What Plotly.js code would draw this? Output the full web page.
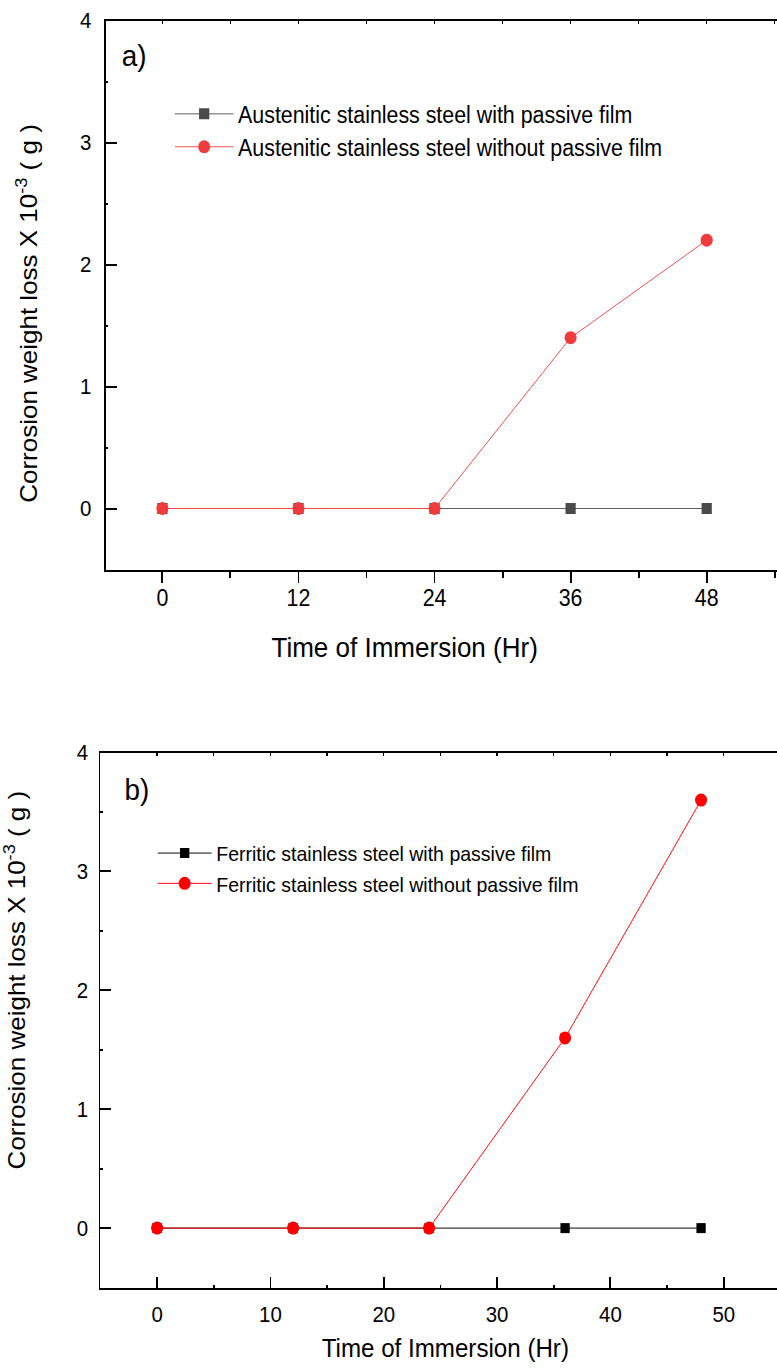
<!DOCTYPE html>
<html><head><meta charset="utf-8">
<script src="https://cdn.plot.ly/plotly-3.0.1.min.js"></script>
<style>
html,body{margin:0;padding:0;overflow:hidden;background:#fff}
#wrap{width:777px;height:1369px;overflow:hidden}
#plot{width:836px;height:1369px;transform:scaleX(0.92943);transform-origin:0 0}
</style>
</head><body><div id="wrap"><div id="plot"></div></div>
<script>
// ---- data ----
const hours = [0, 12, 24, 36, 48];
const austeniticWithFilm = [0, 0, 0, 0, 0];
const austeniticWithoutFilm = [0, 0, 0, 1.4, 2.2];
const ferriticWithFilm = [0, 0, 0, 0, 0];
const ferriticWithoutFilm = [0, 0, 0, 1.6, 3.6];
const seriesNamesTop = ['Austenitic stainless steel with passive film', 'Austenitic stainless steel without passive film'];
const seriesNamesBottom = ['Ferritic stainless steel with passive film', 'Ferritic stainless steel without passive film'];
const panelLabels = ['a)', 'b)'];
const xTitle = 'Time of Immersion (Hr)';
const yTitle = 'Corrosion weight loss X 10<sup>-3</sup> ( g )';

const FONT = 'Liberation Sans, Arial, Helvetica, sans-serif';

const traces = [
  {x: hours, y: austeniticWithFilm, name: seriesNamesTop[0], type: 'scatter', mode: 'lines+markers',
   xaxis: 'x', yaxis: 'y', legend: 'legend', legendgroup: 'a1',
   line: {color: '#555555', width: 1}, marker: {symbol: 'square', size: 11, color: '#4a4a4a'}},
  {x: hours, y: austeniticWithoutFilm, name: seriesNamesTop[1], type: 'scatter', mode: 'lines+markers',
   xaxis: 'x', yaxis: 'y', legend: 'legend', legendgroup: 'a2',
   line: {color: '#f24848', width: 1}, marker: {symbol: 'circle', size: 13, color: '#f03c3c'}},
  {x: hours, y: ferriticWithFilm, name: seriesNamesBottom[0], type: 'scatter', mode: 'lines+markers',
   xaxis: 'x2', yaxis: 'y2', legend: 'legend2', legendgroup: 'b1',
   line: {color: '#000000', width: 1}, marker: {symbol: 'square', size: 10, color: '#000000'}},
  {x: hours, y: ferriticWithoutFilm, name: seriesNamesBottom[1], type: 'scatter', mode: 'lines+markers',
   xaxis: 'x2', yaxis: 'y2', legend: 'legend2', legendgroup: 'b2',
   line: {color: '#ff0000', width: 1}, marker: {symbol: 'circle', size: 13, color: '#ff0000'}},
  // empty helpers so the top (frame) axes get drawn
  {x: [], y: [], type: 'scatter', mode: 'markers', xaxis: 'x3', yaxis: 'y', showlegend: false, hoverinfo: 'skip'},
  {x: [], y: [], type: 'scatter', mode: 'markers', xaxis: 'x4', yaxis: 'y2', showlegend: false, hoverinfo: 'skip'}
];

const axBase = {showgrid: false, zeroline: false, showline: true, linecolor: '#000', linewidth: 2,
  tickcolor: '#000', tickwidth: 2, tickfont: {family: FONT, size: 22, color: '#000'}};

const layout = {
  width: 836, height: 1369,
  margin: {l: 0, r: 0, t: 0, b: 0},
  paper_bgcolor: '#fff', plot_bgcolor: '#fff',
  font: {family: FONT, color: '#000'},
  showlegend: true,
  xaxis: Object.assign({}, axBase, {domain: [0.136, 1], anchor: 'y', range: [-5, 54.2],
    tick0: 0, dtick: 12, ticks: 'outside', ticklen: 11, ticklabelstandoff: -4,
    tickfont: {family: FONT, size: 23, color: '#000'},
    minor: {dtick: 6, ticks: 'outside', ticklen: 6, tickwidth: 2, tickcolor: '#000'}}),
  yaxis: Object.assign({}, axBase, {domain: [0.584, 0.985], anchor: 'x', range: [-0.5, 4],
    tick0: 0, dtick: 1, ticks: 'inside', ticklen: 12, ticklabelstandoff: 9,
    minor: {dtick: 0.5, ticks: 'inside', ticklen: 3, tickwidth: 2, tickcolor: '#000'}}),
  xaxis3: Object.assign({}, axBase, {overlaying: 'x', anchor: 'y', side: 'top', range: [-5, 54.2],
    tick0: 0, dtick: 6, ticks: 'inside', ticklen: 3, tickwidth: 1.5, showticklabels: false}),
  xaxis2: Object.assign({}, axBase, {domain: [0.1293, 1], anchor: 'y2', range: [-5, 54.7],
    tick0: 0, dtick: 10, ticks: 'inside', ticklen: 11, ticklabelstandoff: 6,
    minor: {dtick: 5, ticks: 'inside', ticklen: 3, tickwidth: 2, tickcolor: '#000'}}),
  yaxis2: Object.assign({}, axBase, {domain: [0.0595, 0.4503], anchor: 'x2', range: [-0.5, 4],
    tick0: 0, dtick: 1, ticks: 'inside', ticklen: 11, ticklabelstandoff: 7,
    minor: {dtick: 0.5, ticks: 'inside', ticklen: 3, tickwidth: 2, tickcolor: '#000'}}),
  xaxis4: Object.assign({}, axBase, {overlaying: 'x2', anchor: 'y2', side: 'top', range: [-5, 54.7],
    tick0: 0, dtick: 5, ticks: 'inside', ticklen: 3, tickwidth: 1.5, showticklabels: false}),
  legend: {x: 0.2191, y: 0.9325, xanchor: 'left', yanchor: 'top', bgcolor: 'rgba(0,0,0,0)',
    font: {family: FONT, size: 23, color: '#000'}, itemwidth: 63, tracegroupgap: 0},
  legend2: {x: 0.197, y: 0.3916, xanchor: 'left', yanchor: 'top', bgcolor: 'rgba(0,0,0,0)',
    font: {family: FONT, size: 21, color: '#000'}, itemwidth: 58, tracegroupgap: 0},
  annotations: [
    {text: panelLabels[0], xref: 'paper', yref: 'paper', x: 0.1543, y: 0.9598, xanchor: 'left', yanchor: 'middle',
     showarrow: false, font: {family: FONT, size: 30, color: '#000'}},
    {text: panelLabels[1], xref: 'paper', yref: 'paper', x: 0.1583, y: 0.4236, xanchor: 'left', yanchor: 'middle',
     showarrow: false, font: {family: FONT, size: 30, color: '#000'}},
    {text: yTitle, xref: 'paper', yref: 'paper', x: 0.0352, y: 0.771, xanchor: 'center', yanchor: 'middle',
     textangle: -90, showarrow: false, font: {family: FONT, size: 26, color: '#000'}},
    {text: yTitle, xref: 'paper', yref: 'paper', x: 0.0197, y: 0.2841, xanchor: 'center', yanchor: 'middle',
     textangle: -90, showarrow: false, font: {family: FONT, size: 26, color: '#000'}},
    {text: xTitle, xref: 'paper', yref: 'paper', x: 0.5213, y: 0.5267, xanchor: 'center', yanchor: 'middle',
     showarrow: false, font: {family: FONT, size: 28, color: '#000'}},
    {text: xTitle, xref: 'paper', yref: 'paper', x: 0.5727, y: 0.01534, xanchor: 'center', yanchor: 'middle',
     showarrow: false, font: {family: FONT, size: 26, color: '#000'}}
  ]
};

Plotly.newPlot('plot', traces, layout, {displayModeBar: false, staticPlot: true});
</script>
</body></html>
